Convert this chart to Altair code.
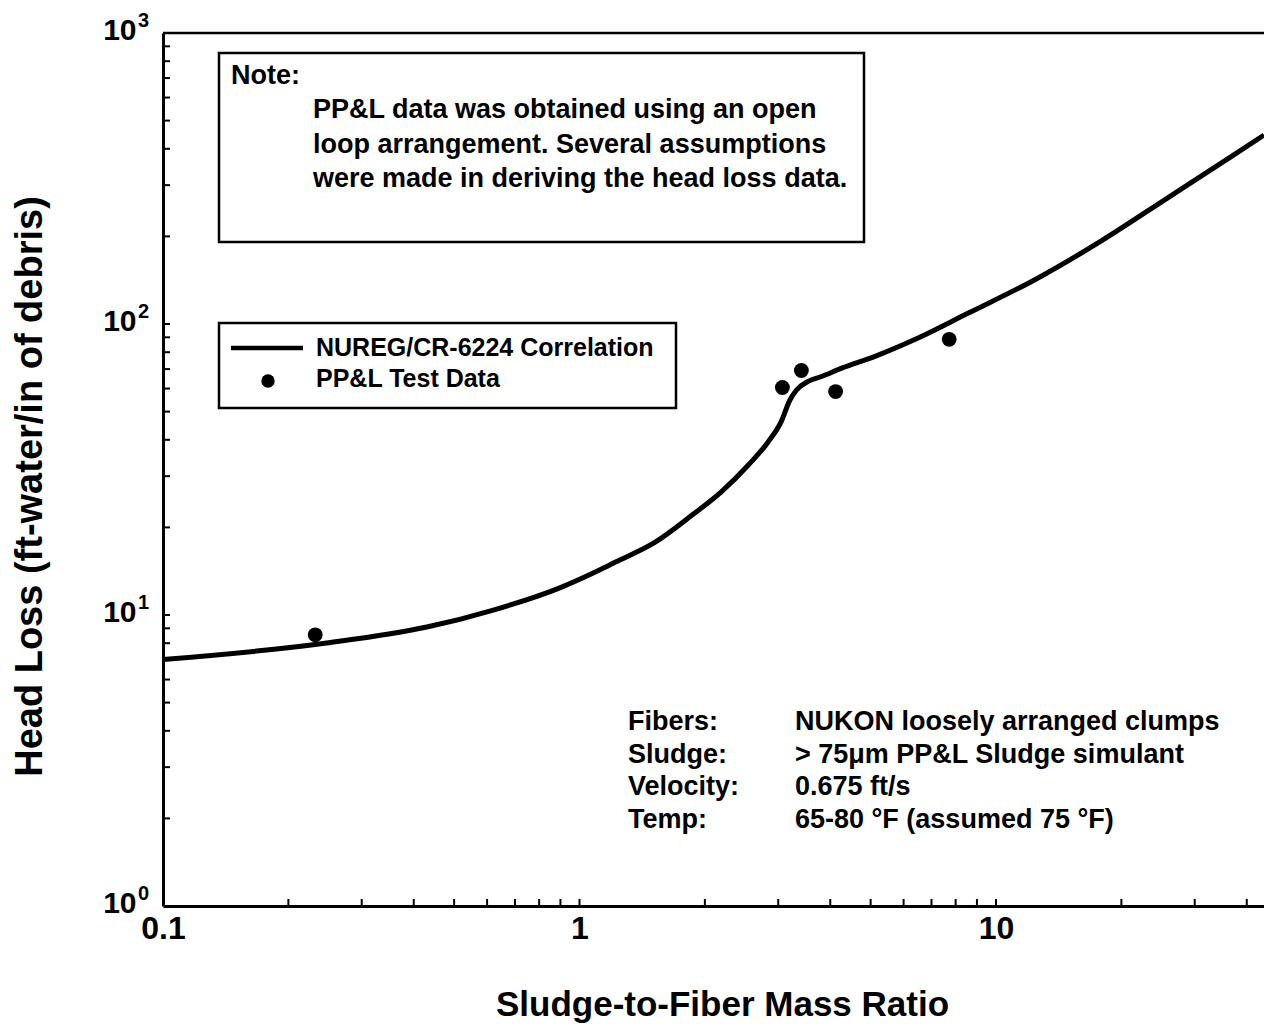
import altair as alt
import pandas as pd

# ---------------- data ----------------
CURVE_X = [0.1, 0.247, 0.43, 0.621, 0.897, 1.12, 1.22, 1.52, 1.86, 2.19, 2.54, 2.84,
           3.05, 3.20, 3.32, 3.54, 3.81, 4.26, 5.12, 6.50, 8.58, 12.4, 17.9, 25.9, 37.4, 44.0]
CURVE_Y = [7.03, 8.01, 9.09, 10.4, 12.4, 14.3, 15.2, 17.8, 22.0, 26.5, 32.7, 39.4,
           46.2, 54.8, 59.3, 63.5, 66.0, 70.5, 77.4, 89.5, 109, 142, 193, 272, 383, 446]
TEST_X = [0.232, 3.07, 3.41, 4.12, 7.72]
TEST_Y = [8.55, 60.5, 69.2, 58.6, 88.6]

X_TICK_VALUES = [0.1, 1, 10]
X_MINOR = [0.2, 0.3, 0.4, 0.5, 0.6, 0.7, 0.8, 0.9, 1, 2, 3, 4, 5, 6, 7, 8, 9, 10, 20, 30, 40]
Y_TICK_VALUES = [1, 10, 100, 1000]
Y_EXPONENTS = ["0", "1", "2", "3"]
Y_MINOR = [2, 3, 4, 5, 6, 7, 8, 9, 10, 20, 30, 40, 50, 60, 70, 80, 90, 100,
           200, 300, 400, 500, 600, 700, 800, 900]

X_TITLE = "Sludge-to-Fiber Mass Ratio"
Y_TITLE = "Head Loss (ft-water/in of debris)"
LEGEND_LABELS = ["NUREG/CR-6224 Correlation", "PP&L Test Data"]
NOTE_HEAD = "Note:"
NOTE_LINES = ["PP&L data was obtained using an open",
              "loop arrangement.  Several assumptions",
              "were made in deriving the head loss data."]
COND_LABELS = ["Fibers:", "Sludge:", "Velocity:", "Temp:"]
COND_VALUES = ["NUKON loosely arranged clumps",
               "> 75\u03bcm PP&L Sludge simulant",
               "0.675 ft/s",
               "65-80 \u00b0F (assumed 75 \u00b0F)"]

# ---------------- layout ----------------
W, H = 1101, 873
FONT = "Liberation Sans"

xscale = alt.Scale(type="log", domain=[0.1, 44.0], nice=False)
yscale = alt.Scale(type="log", domain=[1, 1000], nice=False)

xaxis = alt.Axis(values=X_TICK_VALUES, format="~g", title=X_TITLE, ticks=False, grid=False,
                 domainColor="black", domainWidth=3, labelFlush=False, labelOverlap=False,
                 labelFont=FONT, labelFontSize=32, labelFontWeight="bold", labelColor="black",
                 labelPadding=7, titleFont=FONT, titleFontSize=35, titleFontWeight="bold",
                 titleColor="black", titleX=559, titleY=98, titleBaseline="middle",
                 titleAlign="center")
yaxis = alt.Axis(values=Y_TICK_VALUES, labelExpr="'10'", title=Y_TITLE, ticks=False, grid=False,
                 domainColor="black", domainWidth=3, labelFlush=False, labelOverlap=False,
                 labelFont=FONT, labelFontSize=30, labelFontWeight="bold", labelColor="black",
                 labelPadding=27, labelOffset=-3, titleFont=FONT, titleFontSize=38,
                 titleFontWeight="bold", titleColor="black", titleX=-133, titleY=453,
                 titleBaseline="middle", titleAlign="center", titleAngle=-90)

curve_df = pd.DataFrame({"x": CURVE_X, "y": CURVE_Y})
test_df = pd.DataFrame({"x": TEST_X, "y": TEST_Y})
one = pd.DataFrame({"k": [0]})

X = alt.X("x:Q", scale=xscale, axis=xaxis)
Y = alt.Y("y:Q", scale=yscale, axis=yaxis)

line = alt.Chart(curve_df).mark_line(color="black", strokeWidth=5, interpolate="monotone").encode(x=X, y=Y)
pts = alt.Chart(test_df).mark_circle(color="black", size=220, opacity=1).encode(x=X, y=Y)

xticks = alt.Chart(pd.DataFrame({"x": X_MINOR})).mark_rule(color="black", strokeWidth=2).encode(
    x=X, y=alt.value(H), y2=alt.value(H - 7))
yticks = alt.Chart(pd.DataFrame({"y": Y_MINOR})).mark_rule(color="black", strokeWidth=2).encode(
    y=Y, x=alt.value(0), x2=alt.value(7))
expo = alt.Chart(pd.DataFrame({"y": Y_TICK_VALUES, "e": Y_EXPONENTS})).mark_text(
    align="left", baseline="middle", font=FONT, fontSize=20, fontWeight="bold", color="black", dy=-12
).encode(x=alt.value(-25), y=Y, text="e:N")

top_border = alt.Chart(one).mark_rule(color="black", strokeWidth=2.5).encode(
    x=alt.value(0), x2=alt.value(W), y=alt.value(0))

# note box
note_box = alt.Chart(one).mark_rect(fill="white", stroke="black", strokeWidth=2.5).encode(
    x=alt.value(56), x2=alt.value(701), y=alt.value(20), y2=alt.value(209))
note_head = alt.Chart(one).mark_text(align="left", baseline="alphabetic", font=FONT, fontSize=27,
                                     fontWeight="bold", color="black").encode(
    x=alt.value(68), y=alt.value(51), text=alt.value(NOTE_HEAD))
note_txt = alt.Chart(one).mark_text(align="left", baseline="alphabetic", font=FONT, fontSize=27,
                                    fontWeight="bold", color="black", lineHeight=34.5).encode(
    x=alt.value(150), y=alt.value(85), text=alt.value(NOTE_LINES))

# legend box
leg_box = alt.Chart(one).mark_rect(fill="white", stroke="black", strokeWidth=2.5).encode(
    x=alt.value(56), x2=alt.value(513), y=alt.value(290), y2=alt.value(375))
leg_line = alt.Chart(one).mark_rule(color="black", strokeWidth=4.5).encode(
    x=alt.value(68), x2=alt.value(140), y=alt.value(315))
leg_dot = alt.Chart(one).mark_circle(color="black", size=180, opacity=1).encode(
    x=alt.value(105), y=alt.value(348))
leg_txt = alt.Chart(one).mark_text(align="left", baseline="alphabetic", font=FONT, fontSize=25,
                                   fontWeight="bold", color="black", lineHeight=31).encode(
    x=alt.value(153), y=alt.value(323), text=alt.value(LEGEND_LABELS))

# conditions block
cond_lab = alt.Chart(one).mark_text(align="left", baseline="alphabetic", font=FONT, fontSize=27,
                                    fontWeight="bold", color="black", lineHeight=32.7).encode(
    x=alt.value(465), y=alt.value(697), text=alt.value(COND_LABELS))
cond_val = alt.Chart(one).mark_text(align="left", baseline="alphabetic", font=FONT, fontSize=27,
                                    fontWeight="bold", color="black", lineHeight=32.7).encode(
    x=alt.value(632), y=alt.value(697), text=alt.value(COND_VALUES))

chart = alt.layer(
    line, pts, xticks, yticks, expo, top_border,
    note_box, note_head, note_txt,
    leg_box, leg_line, leg_dot, leg_txt,
    cond_lab, cond_val,
).properties(
    width=W, height=H,
    autosize=alt.AutoSizeParams(type="none"),
    padding={"left": 155, "top": 25, "right": 0, "bottom": 118},
    background="white",
).configure_view(stroke=None)

chart.save("out.html", embed_options={"renderer": "svg", "actions": False})
